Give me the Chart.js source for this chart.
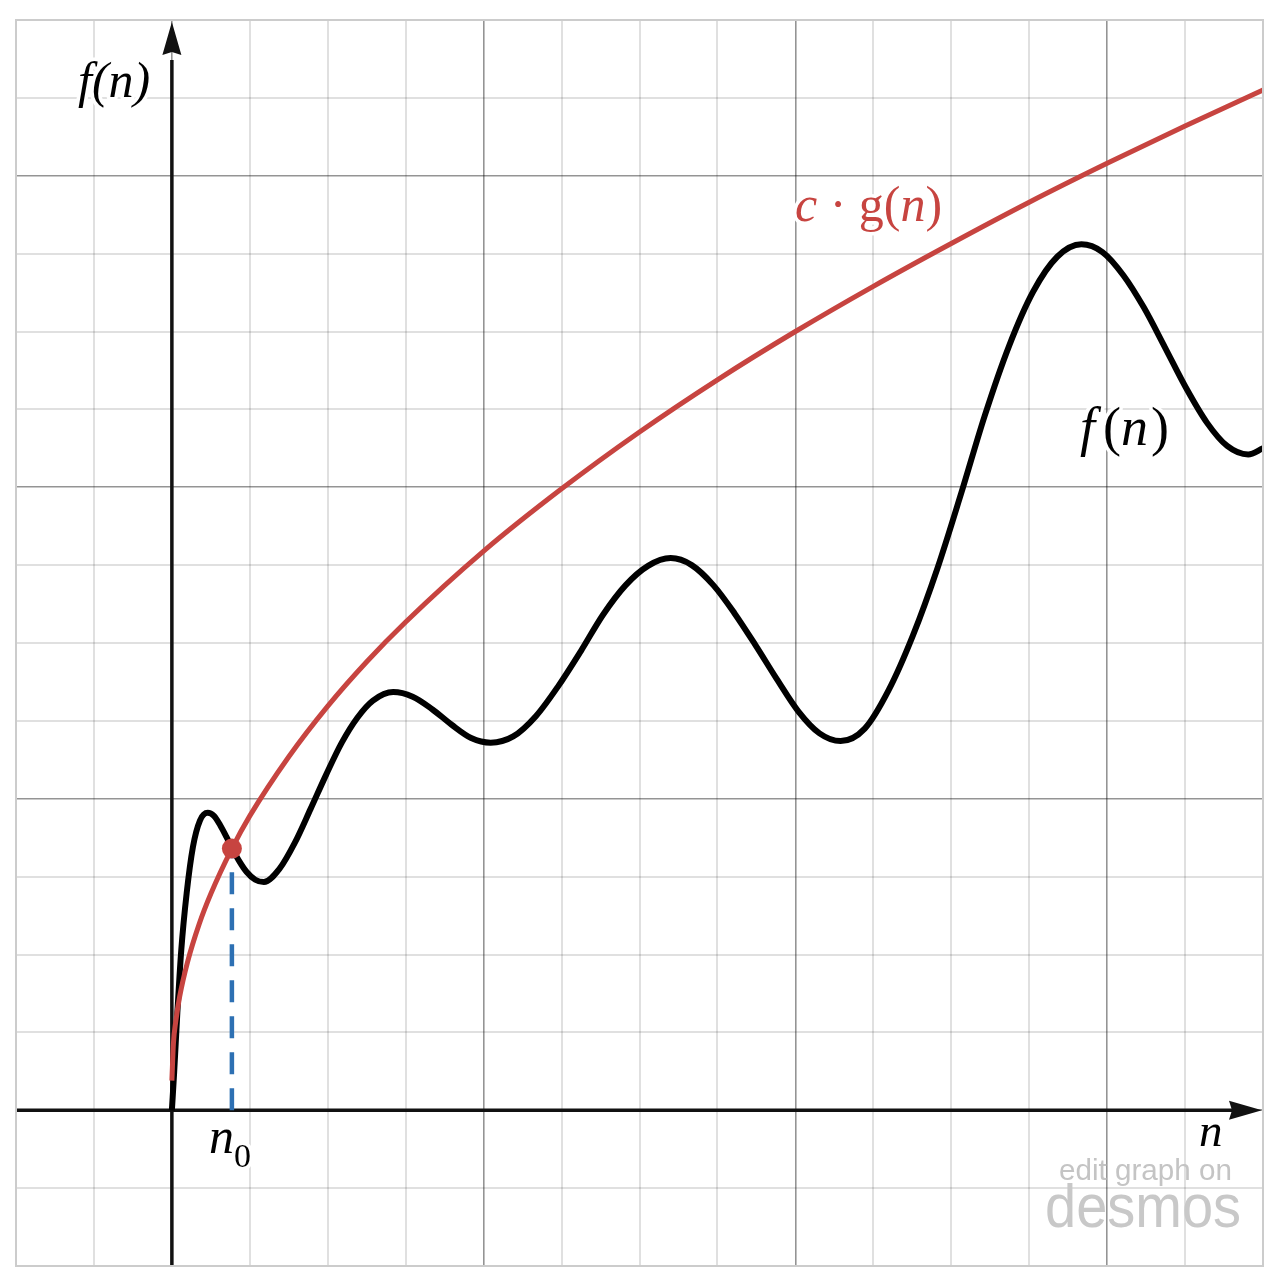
<!DOCTYPE html>
<html>
<head>
<meta charset="utf-8">
<script src="https://cdn.jsdelivr.net/npm/chart.js@4.4.1/dist/chart.umd.min.js"></script>
<style>
  html, body { margin: 0; padding: 0; background: #fff; }
  #wrap { width: 1278px; height: 1276px; position: relative; }
</style>
</head>
<body>
<div id="wrap"><canvas id="graph"></canvas></div>
<script>
// values (grid units, 1 minor square = 1)
const fX = [0, 0.03, 0.07, 0.12, 0.19, 0.27, 0.36, 0.46,
  0.54, 0.62, 0.7, 0.77, 0.87, 0.96, 1.07, 1.18,
  1.38, 1.58, 1.78, 1.98, 2.18, 2.38, 2.58, 2.84,
  3.09, 3.34, 3.59, 3.84, 4.09,
  4.38, 4.67, 4.96, 5.25, 5.53, 5.82, 6.11, 6.4,
  6.67, 6.95, 7.22, 7.49, 7.76, 8.04, 8.31, 8.58,
  8.89, 9.2, 9.51, 9.82, 10.13, 10.43, 10.74, 11.05, 11.36, 11.67,
  11.94, 12.21, 12.47, 12.74, 13.01, 13.28, 13.54, 13.81, 14.0];
const fY = [0, 0.5, 1.25, 2.05, 2.79, 3.38, 3.72, 3.82,
  3.78, 3.66, 3.51, 3.37, 3.19, 3.06, 2.96, 2.93,
  3.1, 3.44, 3.87, 4.31, 4.72, 5.04, 5.26, 5.37,
  5.31, 5.15, 4.95, 4.78, 4.72,
  4.8, 5.06, 5.45, 5.9, 6.36, 6.74, 6.99, 7.09,
  7.0, 6.74, 6.38, 5.97, 5.54, 5.12, 4.84, 4.74,
  4.9, 5.4, 6.1, 6.95, 7.93, 8.92, 9.81, 10.51, 10.96, 11.12,
  11.02, 10.72, 10.31, 9.8, 9.28, 8.83, 8.53, 8.42, 8.5];

const gX = [0, 0.02, 0.05, 0.1, 0.2, 0.35, 0.5, 0.77, 1, 1.5, 2, 2.5, 3, 4, 5, 6, 7, 8, 9, 10, 11, 12, 13, 14];
const gY = [0.38, 0.86, 1.14, 1.46, 1.9, 2.39, 2.78, 3.36, 3.78, 4.54, 5.19, 5.76, 6.27, 7.18, 7.98, 8.71, 9.38, 10.0, 10.58, 11.13, 11.66, 12.16, 12.64, 13.1];

const n0 = 0.77;
const n0Y = 3.36;

const axisMin = -2;
const axisMax = 14;
const majorStep = 4;

const RED = "#c74440";
const BLUE = "#2d70b3";

const toPts = (xs, ys) => xs.map((x, i) => ({ x: x, y: ys[i] }));

// text with mixed italic / upright pieces and a white halo
function drawRuns(ctx, x, y, runs, color) {
  let cx = x;
  const placed = [];
  runs.forEach((r) => {
    ctx.font = r.font;
    cx += r.gap || 0;
    placed.push({ t: r.t, font: r.font, x: cx, y: y + (r.dy || 0) });
    cx += ctx.measureText(r.t).width;
  });
  ctx.save();
  ctx.lineJoin = "round";
  placed.forEach((p) => {
    ctx.font = p.font;
    ctx.strokeStyle = "#fff";
    ctx.lineWidth = 7;
    ctx.strokeText(p.t, p.x, p.y);
  });
  placed.forEach((p) => {
    ctx.font = p.font;
    ctx.fillStyle = color;
    ctx.fillText(p.t, p.x, p.y);
  });
  ctx.restore();
}

const axesPlugin = {
  id: "axesPlugin",
  beforeDatasetsDraw(chart) {
    const { ctx, chartArea, scales } = chart;
    const x0 = scales.x.getPixelForValue(0);
    const y0 = scales.y.getPixelForValue(0);
    ctx.save();
    ctx.strokeStyle = "#111";
    ctx.fillStyle = "#111";
    ctx.lineWidth = 3.5;
    ctx.beginPath();
    ctx.moveTo(x0, chartArea.bottom);
    ctx.lineTo(x0, chartArea.top + 40);
    ctx.moveTo(chartArea.left, y0);
    ctx.lineTo(chartArea.right - 30, y0);
    ctx.stroke();
    // arrow up
    ctx.beginPath();
    ctx.moveTo(x0, chartArea.top + 2);
    ctx.lineTo(x0 - 9.5, chartArea.top + 35);
    ctx.lineTo(x0, chartArea.top + 32);
    ctx.lineTo(x0 + 9.5, chartArea.top + 35);
    ctx.closePath();
    ctx.fill();
    // arrow right
    ctx.beginPath();
    ctx.moveTo(chartArea.right - 1, y0);
    ctx.lineTo(chartArea.right - 34, y0 - 9.5);
    ctx.lineTo(chartArea.right - 31, y0);
    ctx.lineTo(chartArea.right - 34, y0 + 9.5);
    ctx.closePath();
    ctx.fill();
    ctx.restore();
  },
  afterDraw(chart) {
    const { ctx, chartArea } = chart;
    ctx.save();
    ctx.strokeStyle = "#cccccc";
    ctx.lineWidth = 2;
    ctx.strokeRect(chartArea.left, chartArea.top, chartArea.right - chartArea.left, chartArea.bottom - chartArea.top);
    ctx.restore();

    const serif = '"Liberation Serif"';
    ctx.textBaseline = "alphabetic";

    drawRuns(ctx, 78, 97, [{ t: "f(n)", font: "italic 50px " + serif }], "#000");
    drawRuns(ctx, 795, 221, [
      { t: "c", font: "italic 50px " + serif },
      { t: " \u00b7 ", font: "50px " + serif },
      { t: "g(", font: "50px " + serif },
      { t: "n", font: "italic 50px " + serif },
      { t: ")", font: "50px " + serif },
    ], RED);
    drawRuns(ctx, 1080, 445, [
      { t: "f", font: "italic 54px " + serif },
      { t: "(", font: "54px " + serif, gap: 8 },
      { t: "n", font: "italic 54px " + serif },
      { t: ")", font: "54px " + serif, gap: 3 },
    ], "#000");
    drawRuns(ctx, 1199, 1146, [{ t: "n", font: "italic 47px " + serif }], "#000");
    drawRuns(ctx, 209, 1153, [
      { t: "n", font: "italic 50px " + serif },
      { t: "0", font: "34px " + serif, dy: 14 },
    ], "#000");

    ctx.save();
    ctx.fillStyle = "#c4c4c4";
    ctx.font = '29px "Liberation Sans"';
    const w1 = ctx.measureText("edit graph on").width;
    ctx.translate(1059, 1180);
    ctx.scale(173 / w1, 1);
    ctx.fillText("edit graph on", 0, 0);
    ctx.restore();

    ctx.save();
    ctx.fillStyle = "#c8c8c8";
    ctx.font = '62px "Liberation Sans"';
    const w2 = ctx.measureText("desmos").width;
    ctx.translate(1045, 1227);
    ctx.scale(196 / w2, 1);
    ctx.fillText("desmos", 0, 0);
    ctx.restore();
  },
};

const gridColor = (c) => {
  const v = c.tick ? c.tick.value : 0;
  return v % majorStep === 0 ? "rgba(0,0,0,0.42)" : "rgba(0,0,0,0.12)";
};
const gridWidth = (c) => {
  const v = c.tick ? c.tick.value : 0;
  return v % majorStep === 0 ? 1.6 : 2;
};

new Chart(document.getElementById("graph"), {
  type: "scatter",
  data: {
    datasets: [
      {
        data: [{ x: n0, y: n0Y }],
        pointRadius: 10,
        pointBackgroundColor: RED,
        pointBorderWidth: 0,
        showLine: false,
        order: 0,
      },
      {
        data: toPts(gX, gY),
        borderColor: RED,
        borderWidth: 5,
        showLine: true,
        pointRadius: 0,
        cubicInterpolationMode: "monotone",
        order: 1,
      },
      {
        data: [{ x: n0, y: 0 }, { x: n0, y: n0Y }],
        borderColor: BLUE,
        borderWidth: 4.5,
        borderDash: [22, 14],
        borderCapStyle: "butt",
        showLine: true,
        pointRadius: 0,
        order: 2,
      },
      {
        data: toPts(fX, fY),
        borderColor: "#000",
        borderWidth: 6,
        showLine: true,
        pointRadius: 0,
        cubicInterpolationMode: "monotone",
        borderJoinStyle: "round",
        order: 3,
      },
    ],
  },
  options: {
    responsive: true,
    maintainAspectRatio: false,
    animation: false,
    layout: { padding: { left: 16, right: 15, top: 20, bottom: 10 } },
    plugins: { legend: { display: false }, tooltip: { enabled: false } },
    scales: {
      x: {
        type: "linear",
        min: axisMin,
        max: axisMax,
        ticks: { display: false, stepSize: 1 },
        border: { display: false },
        grid: { color: gridColor, lineWidth: gridWidth, drawTicks: false },
      },
      y: {
        type: "linear",
        min: axisMin,
        max: axisMax,
        ticks: { display: false, stepSize: 1 },
        border: { display: false },
        grid: { color: gridColor, lineWidth: gridWidth, drawTicks: false },
      },
    },
  },
  plugins: [axesPlugin],
});
</script>
</body>
</html>
